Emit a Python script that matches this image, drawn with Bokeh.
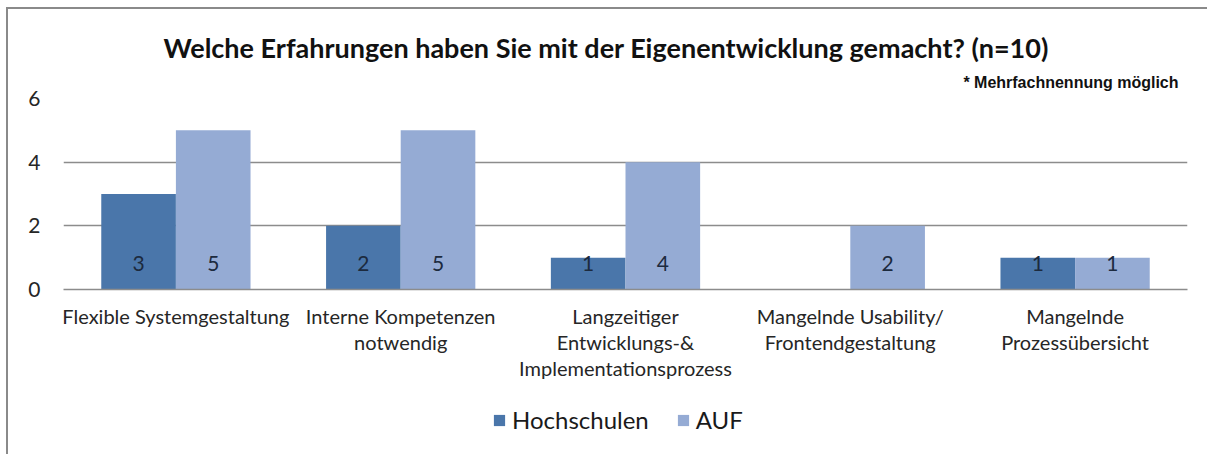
from bokeh.plotting import figure
from bokeh.layouts import column
from bokeh.models import ColumnDataSource, FactorRange, Legend, LegendItem, FixedTicker, Title
from bokeh.transform import dodge
from bokeh.embed import file_html
from bokeh.resources import INLINE

categories = ["Flexible Systemgestaltung",
              "Interne Kompetenzen\nnotwendig",
              "Langzeitiger\nEntwicklungs-&\nImplementationsprozess",
              "Mangelnde Usability/\nFrontendgestaltung",
              "Mangelnde\nProzessübersicht"]
hochschulen = [3, 2, 1, 0, 1]
auf = [5, 5, 4, 2, 1]
series_names = ["Hochschulen", "AUF"]
y_ticks = [0, 2, 4, 6]
title_text = "Welche Erfahrungen haben Sie mit der Eigenentwicklung gemacht? (n=10)"
note_text = "* Mehrfachnennung möglich"

C_DARK = "#4a76aa"
C_LIGHT = "#95abd4"
GRID = "#8c8c8c"
FONT = "Lato"

src = ColumnDataSource(dict(
    cat=categories,
    h=hochschulen,
    a=auf,
    h_lbl=[str(v) if v else "" for v in hochschulen],
    a_lbl=[str(v) if v else "" for v in auf],
))

p = figure(x_range=FactorRange(factors=categories, range_padding=0), y_range=(0, 6),
           width=1199, height=381, output_backend="svg", toolbar_location=None,
           min_border_left=55, min_border_top=89, min_border_right=20, min_border_bottom=101)
p.outline_line_color = None
p.background_fill_color = "white"
p.border_fill_color = "white"

p.vbar(x=dodge("cat", -0.166, range=p.x_range), top="h", width=0.332, source=src,
       fill_color=C_DARK, line_color=None)
p.vbar(x=dodge("cat", 0.166, range=p.x_range), top="a", width=0.332, source=src,
       fill_color=C_LIGHT, line_color=None)

for col, off in (("h_lbl", -0.166), ("a_lbl", 0.166)):
    p.text(x=dodge("cat", off, range=p.x_range), y=0, text=col, source=src,
           text_align="center", text_baseline="middle", y_offset=-26,
           text_font={"value": FONT}, text_font_size="21px", text_color="#1c2a3e")

p.xgrid.grid_line_color = None
p.ygrid.grid_line_color = GRID
p.ygrid.grid_line_width = 1.3

p.yaxis.ticker = FixedTicker(ticks=y_ticks)
p.yaxis.axis_line_color = None
p.yaxis.major_tick_line_color = None
p.yaxis.minor_tick_line_color = None
p.yaxis.major_label_text_font = FONT
p.yaxis.major_label_text_font_size = "21px"
p.yaxis.major_label_text_color = "#262626"
p.yaxis.major_label_standoff = 17

p.xaxis.axis_line_color = GRID
p.xaxis.axis_line_width = 1.3
p.xaxis.major_tick_line_color = None
p.xaxis.minor_tick_line_color = None
p.xaxis.major_label_text_font = FONT
p.xaxis.major_label_text_font_size = "20px"
p.xaxis.major_label_text_color = "#262626"
p.xaxis.major_label_standoff = 8
p.xaxis.major_label_text_line_height = 1.1

p.add_layout(Title(text=note_text, align="right", offset=9, standoff=16,
                   text_font="Liberation Sans", text_font_style="bold",
                   text_font_size="16px", text_color="#111111"), "above")
p.add_layout(Title(text=title_text, align="left", offset=100, standoff=0,
                   text_font=FONT, text_font_style="bold",
                   text_font_size="27px", text_color="#111111"), "above")

# legend strip: same series as hidden renderers, only their legend entries are shown
lg = figure(width=1199, height=64, x_range=FactorRange(factors=categories),
            y_range=(0, 6), output_backend="svg", toolbar_location=None,
            x_axis_location=None, y_axis_location=None, min_border=0)
lg.outline_line_color = None
lg.grid.grid_line_color = None
lg.border_fill_color = "white"
lg.background_fill_color = "white"
r1 = lg.vbar(x="cat", top="h", width=0.3, source=src, fill_color=C_DARK, line_color=None,
             visible=False)
r2 = lg.vbar(x="cat", top="a", width=0.3, source=src, fill_color=C_LIGHT, line_color=None,
             visible=False)
legend = Legend(items=[LegendItem(label=series_names[0], renderers=[r1]),
                       LegendItem(label=series_names[1], renderers=[r2])],
                orientation="horizontal", location=(429, 20),
                glyph_width=14, glyph_height=14, label_standoff=6, spacing=27,
                padding=0, margin=0, border_line_color=None, background_fill_alpha=0,
                inactive_fill_alpha=0,
                label_text_font=FONT, label_text_font_size="24px", label_text_color="#1a1a1a")
lg.add_layout(legend, "center")

layout = column(p, lg, spacing=0,
                styles={"margin-left": "6px", "margin-top": "7px",
                        "border-left": "2px solid #8a8a8a", "border-top": "2px solid #8a8a8a"})

open("out.html", "w").write(file_html(layout, INLINE))
